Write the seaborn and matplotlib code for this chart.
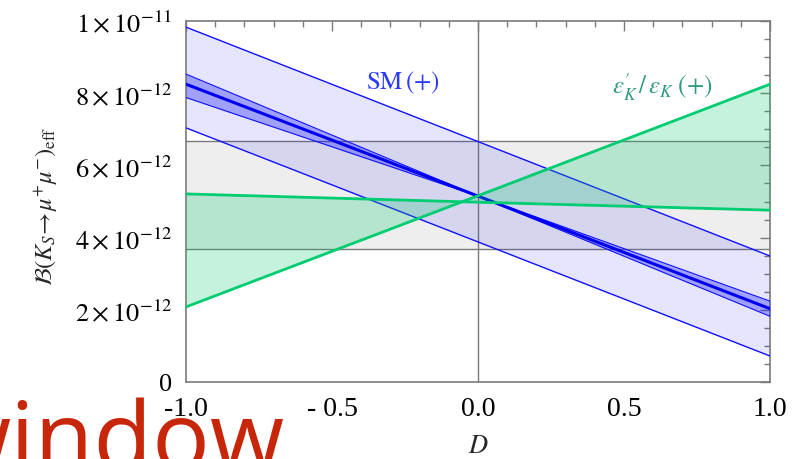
import numpy as np
import pandas as pd
import matplotlib
matplotlib.use("Agg")
import matplotlib.pyplot as plt
import seaborn as sns
from matplotlib.ticker import MultipleLocator, FixedLocator

# ---- data (values in units of 1e-12) ----
D = [-1.0, 0.0, 1.0]
sm_wide_upper = [9.83, 6.66, 3.49]
sm_wide_lower = [7.04, 3.88, 0.72]
sm_narrow_a = [8.53, 5.15, 1.82]
sm_narrow_b = [7.88, 5.15, 2.24]
sm_central = [8.25, 5.15, 2.03]
eps_flat = [5.21, 4.98, 4.76]
eps_steep = [2.08, 5.16, 8.25]
exp_low = 3.68
exp_high = 6.68
scale = 1e-12

xticks = [-1.0, -0.5, 0.0, 0.5, 1.0]
xticklabels = ["-1.0", "- 0.5", "0.0", "0.5", "1.0"]
yticks = [0, 2e-12, 4e-12, 6e-12, 8e-12, 1e-11]
yticklabels = ["0", r"$2\times10^{-12}$", r"$4\times10^{-12}$",
               r"$6\times10^{-12}$", r"$8\times10^{-12}$", r"$1\times10^{-11}$"]

sns.set_theme(style="white")
plt.rcParams["font.family"] = ["Liberation Serif", "DejaVu Serif"]
plt.rcParams["mathtext.fontset"] = "stix"

df = pd.DataFrame({
    "D": D,
    "wu": np.array(sm_wide_upper) * scale,
    "wl": np.array(sm_wide_lower) * scale,
    "na": np.array(sm_narrow_a) * scale,
    "nb": np.array(sm_narrow_b) * scale,
    "nc": np.array(sm_central) * scale,
    "ef": np.array(eps_flat) * scale,
    "es": np.array(eps_steep) * scale,
})

fig = plt.figure(figsize=(7.94, 4.60), dpi=100)
ax = fig.add_axes([186/794, 77/460, 584/794, 361/460])

blue = "#1010ff"
green_line = "#00cc72"
gray_line = "#7a7a7a"

# experimental gray band
ax.axhspan(exp_low * scale, exp_high * scale, color="#eeeeee", lw=0, zorder=0)
ax.axhline(exp_low * scale, color=gray_line, lw=1.0, zorder=1)
ax.axhline(exp_high * scale, color=gray_line, lw=1.0, zorder=1)
ax.axvline(0.0, color=gray_line, lw=1.0, zorder=1)

# SM wide band
ax.fill_between(df["D"], df["wl"], df["wu"], color="#0000ff", alpha=0.10, lw=0, zorder=2)
sns.lineplot(data=df, x="D", y="wu", ax=ax, color=blue, lw=1.0, zorder=3)
sns.lineplot(data=df, x="D", y="wl", ax=ax, color=blue, lw=1.0, zorder=3)

# SM narrow band
ax.fill_between(df["D"], df["na"], df["nb"], color="#2020ff", alpha=0.35, lw=0, zorder=4)
sns.lineplot(data=df, x="D", y="na", ax=ax, color=blue, lw=0.8, zorder=5)
sns.lineplot(data=df, x="D", y="nb", ax=ax, color=blue, lw=0.8, zorder=5)
sns.lineplot(data=df, x="D", y="nc", ax=ax, color="#0000ee", lw=2.2, zorder=6)

# eps'/eps band
ax.fill_between(df["D"], df["ef"], df["es"], color=(0, 200/255, 104/255), alpha=0.23, lw=0, zorder=7)
sns.lineplot(data=df, x="D", y="ef", ax=ax, color=green_line, lw=2.0, zorder=8)
sns.lineplot(data=df, x="D", y="es", ax=ax, color=green_line, lw=2.0, zorder=8)

ax.set_xlim(-1, 1)
ax.set_ylim(0, 1e-11)
ax.xaxis.set_major_locator(FixedLocator(xticks))
ax.set_xticklabels(xticklabels)
ax.xaxis.set_minor_locator(MultipleLocator(0.1))
ax.yaxis.set_major_locator(FixedLocator(yticks))
ax.set_yticklabels(yticklabels)
ax.yaxis.set_minor_locator(MultipleLocator(0.5e-12))

ax.tick_params(which="both", direction="in", top=True, right=True, color=gray_line,
               labelcolor="black", width=1.0)
ax.tick_params(axis="x", which="major", labelsize=20, pad=10)
ax.tick_params(axis="y", which="major", labelsize=19, pad=10)
ax.tick_params(which="major", length=7)
ax.tick_params(which="minor", length=4)
for s in ax.spines.values():
    s.set_color(gray_line)
    s.set_linewidth(1.2)
ax.grid(False)

ax.set_xlabel(r"$D$", fontsize=19, labelpad=10)
ax.set_ylabel(r"$\mathcal{B}\left(K_S\!\to\!\mu^{+}\mu^{-}\right)_{\rm eff}$", fontsize=17.5, labelpad=12)
ax.yaxis.set_label_coords(-0.215, 0.49)

ax.text(-0.257, 8.31e-12, r"$\mathrm{SM}\,(+)$", color="#2a3aff", fontsize=18,
        ha="center", va="center", zorder=10)
ax.text(0.63, 8.2e-12, r"$\epsilon^{\prime}_{K}\,/\,\epsilon_{K}\;(+)$", color="#2e9a7e", fontsize=18,
        ha="center", va="center", zorder=10)

fig.text(285/794, -10/460, "window", color="#c8260a", fontsize=69, family="Open Sans",
         weight="normal", ha="right", va="baseline")

fig.savefig("out.png", dpi=100)
